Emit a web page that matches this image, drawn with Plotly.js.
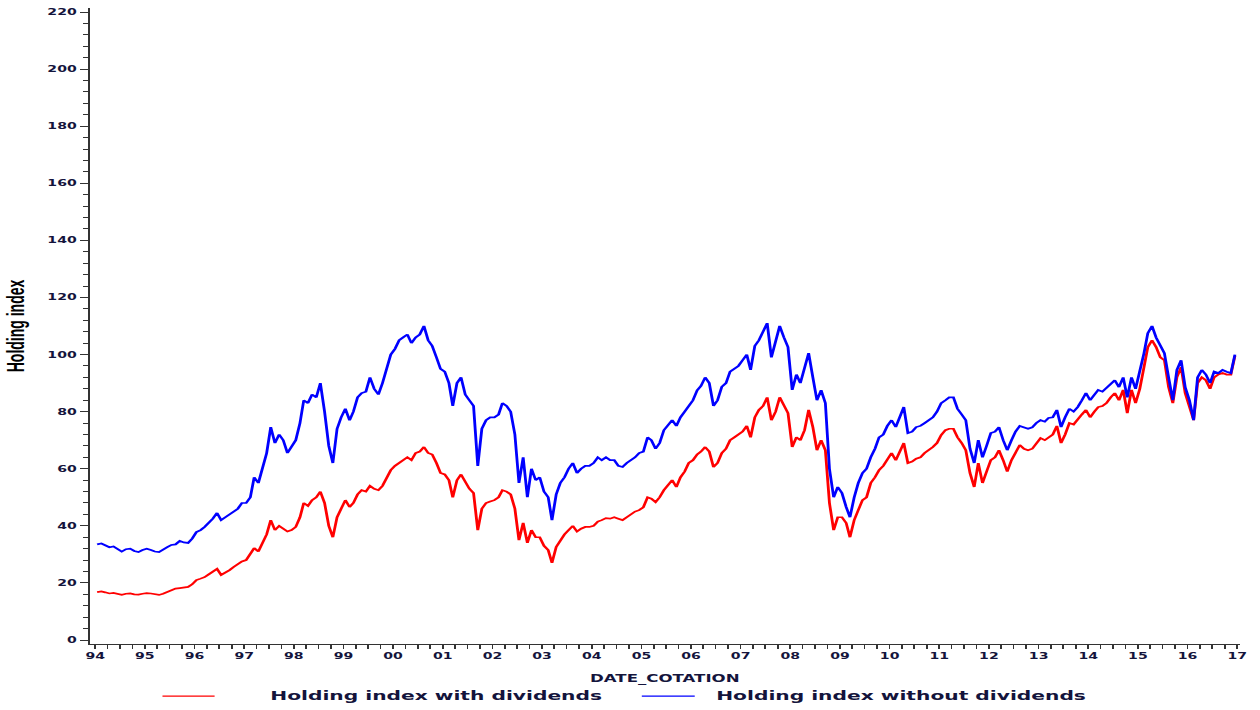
<!DOCTYPE html>
<html>
<head>
<meta charset="utf-8">
<script src="https://cdn.plot.ly/plotly-3.0.1.min.js"></script>
<style>
  html, body { margin: 0; padding: 0; background: #fff; overflow: hidden; }
  #wrap { width: 760px; height: 710px; transform: scaleX(1.6579); transform-origin: 0 0; }
  #chart { width: 760px; height: 710px; }
</style>
</head>
<body>
<div id="wrap"><div id="chart"></div></div>
<script>
// ---- data (monthly readings, Jan 1994 .. Dec 2016) ----
const firstYear = 1994;
const lastYear = 2016;
const xTickLabels = ['94','95','96','97','98','99','00','01','02','03','04','05','06','07','08','09','10','11','12','13','14','15','16','17'];
const seriesNames = ['Holding index with dividends', 'Holding index without dividends'];

const withoutDividends = [
  33.5, 33.8, 33.2, 32.5, 32.8, 31.8, 31.0, 31.8, 32.0, 31.2, 30.8, 31.5,
  32.0, 31.5, 31.0, 30.8, 31.5, 32.5, 33.3, 33.5, 34.7, 34.2, 34.0, 35.5,
  37.8, 38.5, 39.6, 41.0, 42.5, 44.5, 42.0, 43.0, 44.0, 45.0, 46.0, 48.0,
  48.0, 50.0, 57.0, 55.0, 60.0, 65.5, 74.6, 69.0, 72.0, 70.0, 65.5, 68.0,
  70.0, 76.0, 84.0, 83.0, 86.0, 85.0, 90.0, 80.0, 68.0, 62.0, 74.0, 78.0,
  81.0, 77.0, 80.0, 85.0, 86.5, 87.0, 92.0, 88.0, 86.0, 90.0, 95.0, 100.0,
  102.0, 105.0, 106.0, 107.0, 104.0, 106.0, 107.0, 110.0, 105.0, 103.0, 99.0, 95.0,
  94.0, 90.0, 82.0, 90.0, 92.0, 86.0, 84.0, 82.0, 61.0, 74.0, 77.0, 78.0,
  78.0, 79.0, 83.0, 82.0, 80.0, 72.0, 55.0, 64.0, 50.0, 60.0, 56.0, 57.0,
  52.0, 50.0, 42.0, 51.0, 55.0, 57.0, 60.0, 62.0, 58.5, 60.0, 61.0, 61.0,
  62.0, 64.0, 63.0, 64.0, 63.0, 63.0, 61.0, 60.6, 62.0, 63.0, 64.0, 65.5,
  66.0, 71.0, 70.0, 67.0, 69.0, 73.5, 75.0, 77.0, 75.0, 78.0, 80.0, 82.0,
  84.0, 87.5, 89.0, 92.0, 90.0, 82.0, 84.0, 88.7, 90.0, 94.0, 95.0, 96.0,
  98.0, 100.0, 94.6, 103.0, 105.0, 108.0, 111.0, 99.0, 104.0, 110.0, 106.0, 102.6,
  87.6, 93.0, 90.0, 95.0, 100.5, 92.0, 84.0, 87.5, 83.0, 60.0, 50.0, 53.6,
  51.5, 46.6, 43.0, 50.0, 55.0, 58.5, 60.0, 64.0, 67.0, 71.0, 72.0, 75.0,
  77.0, 74.6, 78.0, 81.6, 72.5, 73.0, 74.6, 75.0, 76.0, 77.0, 78.0, 80.0,
  83.0, 84.0, 85.0, 85.0, 81.0, 79.0, 77.0, 67.0, 62.0, 70.0, 64.0, 68.0,
  72.5, 73.0, 74.6, 70.0, 66.5, 70.0, 73.0, 75.0, 74.5, 74.0, 74.5, 76.0,
  77.0, 76.5, 77.8, 78.0, 80.6, 74.6, 78.0, 81.0, 80.0, 81.6, 84.0, 86.5,
  84.0, 86.0, 87.6, 87.0, 88.3, 90.0, 91.0, 88.6, 92.0, 85.0, 92.0, 88.0,
  93.5, 100.5, 107.5, 110.0, 106.0, 103.0, 100.5, 92.0, 84.0, 94.6, 98.0, 88.6,
  84.0, 77.0, 92.0, 94.6, 93.0, 90.0, 94.0, 93.5, 94.6, 94.0, 93.5, 100.0
];

const withDividends = [
  16.8, 17.0, 16.7, 16.3, 16.5, 16.0, 15.8, 16.2, 16.3, 16.0, 15.9, 16.2,
  16.4, 16.3, 16.0, 15.8, 16.2, 16.8, 17.5, 18.0, 18.2, 18.4, 18.6, 19.5,
  21.0, 21.5, 22.0, 23.0, 23.8, 24.9, 22.8, 23.5, 24.5, 25.6, 26.5, 27.5,
  28.0, 30.0, 32.2, 31.0, 34.0, 37.0, 42.0, 38.5, 40.0, 39.0, 38.0, 38.5,
  39.6, 43.0, 48.0, 47.0, 49.0, 50.0, 52.0, 48.0, 40.0, 36.0, 43.0, 46.0,
  49.0, 46.6, 48.0, 51.0, 52.5, 52.0, 54.0, 53.0, 52.5, 54.0, 57.0, 59.5,
  61.0, 62.0, 63.0, 64.0, 63.0, 65.5, 66.0, 67.6, 65.5, 65.0, 62.0, 58.5,
  58.0, 56.0, 50.0, 56.0, 58.0, 55.0, 53.0, 51.5, 38.5, 46.0, 48.0, 48.5,
  49.0, 50.0, 52.5, 52.0, 51.0, 46.0, 35.0, 41.0, 34.0, 38.5, 36.0, 36.0,
  33.0, 31.5, 27.0, 32.6, 35.0, 37.0, 38.5, 40.0, 38.0, 39.0, 39.6, 39.6,
  40.0, 41.5, 42.0, 42.7, 42.5, 43.0, 42.5, 42.0, 43.0, 44.0, 45.0, 45.5,
  46.5, 50.0, 49.5, 48.3, 50.0, 52.5, 54.0, 56.0, 53.6, 57.0, 59.0, 62.0,
  63.0, 65.0, 66.0, 67.6, 66.0, 60.6, 62.0, 65.5, 67.0, 70.0, 71.0, 72.0,
  73.0, 75.0, 71.0, 78.0, 80.6, 82.0, 85.0, 77.0, 80.0, 85.0, 82.0, 79.5,
  67.6, 71.0, 70.0, 73.5, 80.6, 74.6, 66.5, 70.0, 66.5, 48.0, 38.5, 43.0,
  43.0, 41.0, 36.0, 42.0, 45.5, 49.0, 50.0, 55.0, 57.0, 59.5, 61.0, 63.0,
  65.5, 63.0, 66.0, 69.0, 62.0, 62.5, 63.5, 64.0, 65.5, 66.5, 67.6, 69.0,
  71.8, 73.5, 74.0, 74.0, 71.0, 69.0, 66.5, 58.5, 53.6, 62.0, 55.0, 59.0,
  63.0, 64.0, 66.5, 63.0, 59.0, 63.0, 66.0, 68.3, 67.0, 66.5, 67.0, 69.0,
  70.7, 70.0, 71.0, 72.0, 75.0, 69.0, 72.0, 76.0, 75.5, 77.0, 79.0, 80.6,
  78.0, 80.0, 81.6, 82.0, 83.0, 85.0, 86.5, 84.0, 87.6, 79.5, 87.6, 83.0,
  88.0, 95.6, 102.6, 105.0, 102.6, 99.0, 98.0, 88.6, 83.0, 92.0, 95.6, 86.5,
  81.6, 77.0, 90.0, 92.0, 91.0, 88.0, 92.0, 93.0, 93.5, 93.0, 93.0, 99.5
];

// month dates for the x axis
const months = [];
for (let y = firstYear; y <= lastYear; y++) {
  for (let m = 1; m <= 12; m++) months.push(y + '-' + String(m).padStart(2, '0') + '-15');
}
const tickVals = xTickLabels.map((_, i) => (firstYear + i) + '-01-01');

const labelColor = '#14143c';
const axisColor = '#333333';

const traces = [
  { x: months, y: withDividends, name: seriesNames[0], type: 'scatter', mode: 'lines',
    line: { color: '#ff0000', width: 1.7 } },
  { x: months, y: withoutDividends, name: seriesNames[1], type: 'scatter', mode: 'lines',
    line: { color: '#0000ff', width: 1.7 } }
];

const legendY = -0.082;
const layout = {
  width: 760, height: 710,
  margin: { l: 54.3, r: 12.1, t: 8, b: 66 },
  paper_bgcolor: '#ffffff', plot_bgcolor: '#ffffff',
  showlegend: false,
  xaxis: {
    type: 'date',
    range: ['1993-11-20', '2017-01-22'],
    tickmode: 'array', tickvals: tickVals, ticktext: xTickLabels,
    ticks: 'outside', ticklen: 4, tickwidth: 1, tickcolor: axisColor,
    showline: true, linecolor: axisColor, linewidth: 1.2,
    showgrid: false, zeroline: false,
    tickfont: { family: 'DejaVu Sans', size: 8.5, weight: 'bold', color: labelColor },
    minor: { dtick: 'M3', tick0: '1994-01-01', ticks: 'outside', ticklen: 3.5, tickcolor: axisColor, showgrid: false },
    title: { text: 'DATE_COTATION', standoff: 14,
      font: { family: 'DejaVu Sans', size: 10, weight: 'bold', color: labelColor } }
  },
  yaxis: {
    range: [-1.4, 221.4],
    tickmode: 'linear', tick0: 0, dtick: 20,
    ticks: 'outside', ticklen: 4.8, tickwidth: 1, tickcolor: axisColor,
    showline: true, linecolor: axisColor, linewidth: 1.2,
    showgrid: false, zeroline: false,
    tickfont: { family: 'DejaVu Sans', size: 8.5, weight: 'bold', color: labelColor },
    minor: { dtick: 4, ticks: 'outside', ticklen: 3, tickcolor: axisColor, showgrid: false },
    title: { text: 'Holding index', standoff: 10,
      font: { family: 'Liberation Sans Narrow, Arial Narrow, Liberation Sans, Arial', size: 14, weight: 'bold', color: '#000000' } }
  },
  shapes: [
    { type: 'line', xref: 'paper', yref: 'paper', x0: 0.0634, x1: 0.1087, y0: legendY, y1: legendY,
      line: { color: '#ff0000', width: 1.2 } },
    { type: 'line', xref: 'paper', yref: 'paper', x0: 0.4800, x1: 0.5260, y0: legendY, y1: legendY,
      line: { color: '#0000ff', width: 1.2 } }
  ],
  annotations: [
    { xref: 'paper', yref: 'paper', x: 0.1547, y: legendY, xanchor: 'left', yanchor: 'middle',
      text: seriesNames[0], showarrow: false,
      font: { family: 'DejaVu Sans', size: 12.2, weight: 'bold', color: labelColor } },
    { xref: 'paper', yref: 'paper', x: 0.5417, y: legendY, xanchor: 'left', yanchor: 'middle',
      text: seriesNames[1], showarrow: false,
      font: { family: 'DejaVu Sans', size: 12.2, weight: 'bold', color: labelColor } }
  ]
};

Plotly.newPlot('chart', traces, layout, { staticPlot: true, displayModeBar: false });
</script>
</body>
</html>
